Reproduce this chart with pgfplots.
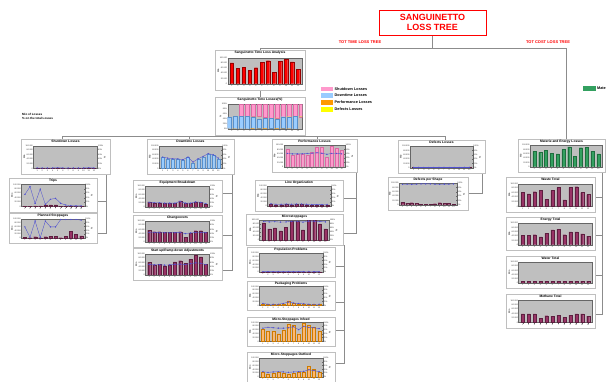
\documentclass[border=0pt]{standalone}
\usepackage{fontspec}
\setmainfont{Liberation Sans}
\usepackage{pgfplots}
\pgfplotsset{compat=1.18}
\definecolor{plum}{HTML}{993366}
\definecolor{plumd}{HTML}{5E1F40}
\definecolor{lblue}{HTML}{99CCFF}
\definecolor{lblued}{HTML}{5A8FC8}
\definecolor{pinkk}{HTML}{FF99CC}
\definecolor{pinkd}{HTML}{D96AA3}
\definecolor{orng}{HTML}{FF9900}
\definecolor{lorng}{HTML}{FFB870}
\definecolor{yel}{HTML}{FFFF00}
\definecolor{grn}{HTML}{33A060}
\definecolor{grnd}{HTML}{1E6E3E}
\definecolor{lineb}{HTML}{5050D0}
\newcommand{\ttlfont}{\fontsize{3.3}{3.6}\selectfont\bfseries}
\tikzset{
 pb/.style={fill=plum,draw=plumd,line width=0.15pt},
 ob/.style={fill=lorng,draw=orng!80!black,line width=0.15pt},
 ln/.style={sharp plot,color=lineb,line width=0.35pt,mark=*,mark size=0.45pt,mark options={fill=lineb}},
 conn/.style={black!45,line width=0.6pt},
}
\pgfplotsset{
 mini/.style={anchor=north west, scale only axis, ymin=0, ymax=100, xmin=0.3, xmax=12.7,
  axis background/.style={fill=black!25},
  axis line style={black!60,line width=0.2pt},
  every tick/.style={black!60,line width=0.2pt}, major tick length=0.8pt,
  tick pos=left,
  xtick={1,...,12}, ytick={0,20,40,60,80,100},
  yticklabels={0,20.000,40.000,60.000,80.000,100.000},
  tick label style={font=\fontsize{2}{2}\selectfont, inner sep=0.4pt, text=black!80, /pgf/number format/assume math mode=true},
  ylabel={Mio}, ylabel style={font=\fontsize{2.4}{2.4}\selectfont, inner sep=0pt},
  ybar, bar width=3pt},
 miniR/.style={anchor=north west, scale only axis, ymin=0, ymax=100, xmin=0.3, xmax=12.7,
  axis x line=none, axis y line*=right,
  axis line style={black!60,line width=0.2pt},
  every tick/.style={black!60,line width=0.2pt}, major tick length=0.8pt,
  ytick={0,20,40,60,80,100},
  yticklabels={0\%,20\%,40\%,60\%,80\%,100\%},
  tick label style={font=\fontsize{2}{2}\selectfont, inner sep=0.4pt, text=black!80},
  ylabel={\%}, ylabel style={font=\fontsize{2.4}{2.4}\selectfont, inner sep=0pt}},
}
\newcommand{\mini}[8][1]{%
 \pgfmathsetmacro\mx{#2+0.14*#4}%
 \pgfmathsetmacro\my{#3+0.19*#5}%
 \ifnum#1=1 \pgfmathsetmacro\mw{0.72*#4}\else\pgfmathsetmacro\mw{0.83*#4}\fi
 \pgfmathsetmacro\mh{0.65*#5}%
 \fill[black!15] ({#2pt+1.2pt},{-#3pt-1.2pt}) rectangle ++(#4pt,-#5pt);
 \draw[black!25,line width=0.3pt,fill=white] (#2pt,-#3pt) rectangle ++(#4pt,-#5pt);
 \node[font=\ttlfont,anchor=north,inner sep=0pt] at ({#2pt+0.5*#4pt},{-#3pt-1.3pt}) {#6};
 \begin{axis}[mini,at={(\mx pt,-\my pt)},width=\mw pt,height=\mh pt,#7]
 #8
 \end{axis}
 \ifnum#1=1
 \begin{axis}[miniR,at={(\mx pt,-\my pt)},width=\mw pt,height=\mh pt]
 \addplot[draw=none] coordinates {(1,0)};
 \end{axis}
 \fi
}
\begin{document}
\begin{tikzpicture}
\path[use as bounding box] (0,0) rectangle (606pt,-381pt);
\clip (0,0) rectangle (606pt,-381pt);
\fill[white] (0,0) rectangle (606pt,-381pt);
\begin{scope}[x=1pt,y=-1pt]
% connectors
\draw[conn] (432,35) -- (432,48);
\draw[conn] (260,50) -- (260,48) -- (566,48) -- (566,139);
\draw[conn] (260,90) -- (260,97);
\draw[conn] (260,134) -- (260,136);
\draw[conn] (62,139) -- (62,136) -- (445,136) -- (445,140);
\draw[conn] (189,136) -- (189,139);
\draw[conn] (317,136) -- (317,139);
\draw[conn] (106,174) -- (106,233) -- (97,233);
\draw[conn] (97,201) -- (106,201);
\draw[conn] (232,174) -- (232,270) -- (222,270);
\draw[conn] (222,193) -- (232,193);
\draw[conn] (222,235) -- (232,235);
\draw[conn] (356,171) -- (356,233) -- (343,233);
\draw[conn] (343,198) -- (356,198);
\draw[conn] (344,245) -- (344,363) -- (335,363);
\draw[conn] (335,266) -- (344,266);
\draw[conn] (335,302) -- (344,302);
\draw[conn] (335,330) -- (344,330);
\draw[conn] (482,173) -- (482,193) -- (468,193);
\draw[conn] (602,172) -- (602,314) -- (595,314);
\draw[conn] (595,197) -- (602,197);
\draw[conn] (595,235) -- (602,235);
\draw[conn] (595,275) -- (602,275);
% title
\node[draw=red,line width=1pt,fill=white,minimum width=107pt,minimum height=25pt,font=\fontsize{9}{10}\selectfont\bfseries,text=red,align=center] at (432.5,22.5) {SANGUINETTO\\LOSS TREE};
\node[font=\fontsize{4}{4}\selectfont\bfseries,text=red] at (360,42) {TOT TIME LOSS TREE};
\node[font=\fontsize{4}{4}\selectfont\bfseries,text=red] at (548,42) {TOT COST LOSS TREE};
% legends
\foreach \yy/\cc/\tt in {89/pinkk/Shutdown Losses,95.5/lblue/Downtime Losses,102.5/orng/Performance Losses,109.5/yel/Defects Losses}{
 \fill[\cc] (321,\yy-2.3) rectangle (333,\yy+2.3);
 \node[anchor=west,font=\fontsize{3.8}{4}\selectfont\bfseries,inner sep=0pt] at (334.5,\yy) {\tt};
}
\fill[grn] (583,86) rectangle (596,91);
\node[anchor=west,font=\fontsize{3.8}{4}\selectfont\bfseries,inner sep=0pt] at (597,88.5) {Materie and Energy Losses};
\node[anchor=west,font=\fontsize{3}{3.4}\selectfont\bfseries,inner sep=0pt,align=left] at (22,116.5) {Mio of Losses\\\% on the total Losses};
\end{scope}
% top charts
\mini[0]{215}{50}{90}{40}{Sanguinetto Time Loss Analysis}{bar width=3.3pt}{
 \addplot[fill=red,draw=red!60!black,line width=0.15pt] coordinates {(1,80)(2,59)(3,62)(4,51)(5,61)(6,82)(7,88)(8,44)(9,85)(10,93)(11,84)(12,55)};
}
\mini[0]{215}{97}{90}{38}{Sanguinetto Time Losses(\%)}{ybar stacked,bar width=4.2pt,yticklabels={0\%,20\%,40\%,60\%,80\%,100\%},ylabel={\%}}{
 \addplot[fill=orng,draw=none] coordinates {(1,1)(2,0.5)(3,1)(4,0.5)(5,0.5)(6,2)(7,1)(8,2)(9,0.5)(10,2)(11,1)(12,1)};
 \addplot[fill=lblue,draw=lblued,line width=0.1pt] coordinates {(1,48)(2,50)(3,50)(4,50)(5,48)(6,38)(7,42)(8,42)(9,38)(10,48)(11,48)(12,50)};
 \addplot[fill=yel,draw=none] coordinates {(1,0.4)(2,0.4)(3,0.4)(4,0.4)(5,0.4)(6,0.4)(7,0.4)(8,0.4)(9,0.4)(10,0.4)(11,0.4)(12,0.4)};
 \addplot[fill=pinkk,draw=pinkd,line width=0.1pt] coordinates {(1,49.6)(2,48.1)(3,47.6)(4,48.1)(5,50.1)(6,58.6)(7,55.6)(8,54.6)(9,60.1)(10,48.6)(11,49.6)(12,47.6)};
}
% level 2
\mini{21}{139}{89}{35}{Shutdown Losses}{}{
 \addplot[pb] coordinates {(1,1)(2,1.5)(3,1)(4,1)(5,2)(6,1)(7,1)(8,1)(9,1)(10,1)(11,2)(12,1)};
 \addplot[ln] coordinates {(1,2)(2,2)(3,2)(4,2)(5,3)(6,2)(7,2)(8,2)(9,2)(10,2)(11,3)(12,2)};
}
\mini{147}{139}{87}{35}{Downtime Losses}{}{
 \addplot[fill=lblue,draw=lblued,line width=0.15pt] coordinates {(1,48)(2,43)(3,40)(4,40)(5,36)(6,48)(7,25)(8,40)(9,51)(10,63)(11,58)(12,43)};
 \addplot[ln] coordinates {(1,50)(2,45)(3,42)(4,42)(5,38)(6,50)(7,28)(8,42)(9,53)(10,65)(11,60)(12,45)};
}
\mini{272}{139}{85}{33}{Performance Losses}{}{
 \addplot[fill=pinkk,draw=pinkd,line width=0.15pt] coordinates {(1,83)(2,54)(3,57)(4,57)(5,54)(6,66)(7,90)(8,90)(9,43)(10,94)(11,87)(12,76)};
 \addplot[ln] coordinates {(1,62)(2,60)(3,60)(4,60)(5,62)(6,63)(7,65)(8,63)(9,58)(10,62)(11,62)(12,60)};
}
\mini{398}{140}{87}{33}{Defects Losses}{}{
 \addplot[pb] coordinates {(1,1)(2,1)(3,1)(4,1)(5,1)(6,1)(7,1)(8,1)(9,1)(10,1)(11,1)(12,1)};
 \addplot[ln] coordinates {(1,1.5)(2,1.5)(3,1.5)(4,1.5)(5,1.5)(6,1.5)(7,1.5)(8,1.5)(9,1.5)(10,1.5)(11,1.5)(12,1.5)};
}
% shutdown children
\mini{9}{178}{88}{34}{Trips}{}{
 \addplot[pb] coordinates {(1,2)(2,2)(3,3)(4,3)(5,8)(6,8)(7,8)(8,2)(9,1)(10,1)(11,1)(12,1)};
 \addplot[ln] coordinates {(1,55)(2,90)(3,14)(4,79)(5,10)(6,33)(7,37)(8,15)(9,7)(10,4)(11,3)(12,3)};
}
\mini{9}{213}{88}{30}{Planned Stoppages}{}{
 \addplot[pb] coordinates {(1,5)(2,3)(3,8)(4,3)(5,8)(6,10)(7,10)(8,3)(9,10)(10,35)(11,20)(12,12)};
 \addplot[ln] coordinates {(1,58)(2,5)(3,88)(4,3)(5,88)(6,58)(7,58)(8,96)(9,96)(10,96)(11,96)(12,93)};
}
% downtime children
\mini{133}{180}{89}{32}{Equipment Breakdown}{}{
 \addplot[pb] coordinates {(1,24)(2,19)(3,19)(4,16)(5,16)(6,16)(7,29)(8,16)(9,16)(10,24)(11,21)(12,13)};
 \addplot[ln] coordinates {(1,22)(2,20)(3,20)(4,18)(5,18)(6,18)(7,26)(8,18)(9,18)(10,24)(11,22)(12,16)};
}
\mini{133}{215}{89}{32}{Changeovers}{}{
 \addplot[pb] coordinates {(1,57)(2,49)(3,49)(4,46)(5,46)(6,46)(7,49)(8,23)(9,42)(10,54)(11,54)(12,46)};
 \addplot[ln] coordinates {(1,45)(2,45)(3,44)(4,44)(5,44)(6,44)(7,45)(8,40)(9,43)(10,45)(11,45)(12,44)};
}
\mini{133}{248}{89}{32}{Start up/Ramp down Adjustments}{}{
 \addplot[pb] coordinates {(1,60)(2,49)(3,52)(4,44)(5,49)(6,63)(7,68)(8,57)(9,76)(10,96)(11,87)(12,52)};
 \addplot[ln] coordinates {(1,50)(2,48)(3,49)(4,47)(5,48)(6,51)(7,52)(8,50)(9,54)(10,58)(11,56)(12,49)};
}
% performance children
\mini{255}{180}{88}{31}{Line Organization}{}{
 \addplot[pb] coordinates {(1,9)(2,7)(3,7)(4,8)(5,7)(6,8)(7,8)(8,7)(9,5)(10,5)(11,5)(12,6)};
 \addplot[ln] coordinates {(1,11)(2,9)(3,9)(4,10)(5,9)(6,10)(7,10)(8,9)(9,7)(10,7)(11,7)(12,8)};
}
\mini{246}{214}{97}{31}{Microstoppages}{}{
 \addplot[pb] coordinates {(1,85)(2,55)(3,60)(4,45)(5,62)(6,95)(7,95)(8,50)(9,97)(10,97)(11,80)(12,55)};
 \addplot[ln] coordinates {(1,92)(2,90)(3,91)(4,89)(5,90)(6,93)(7,93)(8,89)(9,94)(10,94)(11,92)(12,90)};
}
\mini{247}{247}{88}{30}{Population Problems}{}{
 \addplot[pb] coordinates {(1,2)(2,2)(3,2)(4,2)(5,2)(6,2)(7,2)(8,2)(9,2)(10,3)(11,2)(12,2)};
 \addplot[ln] coordinates {(1,3)(2,3)(3,3)(4,3)(5,3)(6,3)(7,3)(8,3)(9,3)(10,4)(11,3)(12,3)};
}
\mini{247}{281}{88}{29}{Packaging Problems}{}{
 \addplot[ob] coordinates {(1,8)(2,5)(3,5)(4,5)(5,8)(6,25)(7,10)(8,8)(9,6)(10,5)(11,5)(12,5)};
 \addplot[ln] coordinates {(1,10)(2,6)(3,6)(4,6)(5,10)(6,18)(7,12)(8,10)(9,8)(10,6)(11,6)(12,6)};
}
\mini{247}{317}{88}{29}{Micro-Stoppages Infeed}{}{
 \addplot[ob] coordinates {(1,63)(2,56)(3,56)(4,41)(5,60)(6,93)(7,85)(8,41)(9,98)(10,85)(11,75)(12,56)};
 \addplot[ln] coordinates {(1,70)(2,75)(3,72)(4,70)(5,70)(6,72)(7,78)(8,62)(9,80)(10,74)(11,72)(12,68)};
}
\mini{247}{352}{88}{30}{Micro-Stoppages Outfeed}{}{
 \addplot[ob] coordinates {(1,25)(2,18)(3,22)(4,25)(5,22)(6,18)(7,22)(8,25)(9,28)(10,55)(11,40)(12,25)};
 \addplot[ln] coordinates {(1,28)(2,25)(3,27)(4,28)(5,27)(6,25)(7,27)(8,28)(9,30)(10,38)(11,34)(12,28)};
}
% defects child
\mini{388}{177}{80}{33}{Defects per Shape}{}{
 \addplot[pb] coordinates {(1,12)(2,8)(3,10)(4,8)(5,3)(6,3)(7,3)(8,5)(9,10)(10,8)(11,8)(12,3)};
 \addplot[ln] coordinates {(1,95)(2,96)(3,95)(4,96)(5,97)(6,97)(7,97)(8,96)(9,95)(10,96)(11,96)(12,97)};
}
% cost tree
\mini[0]{518}{139}{87}{33}{Materie and Energy Losses}{}{
 \addplot[fill=grn,draw=grnd,line width=0.15pt] coordinates {(1,71)(2,67)(3,76)(4,63)(5,60)(6,80)(7,93)(8,49)(9,89)(10,91)(11,73)(12,60)};
}
\mini[0]{506}{177}{89}{35}{Waste Total}{}{
 \addplot[pb] coordinates {(1,61)(2,55)(3,65)(4,70)(5,31)(6,70)(7,83)(8,29)(9,83)(10,87)(11,61)(12,52)};
}
\mini[0]{506}{217}{89}{33}{Energy Total}{}{
 \addplot[pb] coordinates {(1,43)(2,43)(3,47)(4,37)(5,53)(6,69)(7,73)(8,47)(9,60)(10,60)(11,51)(12,40)};
}
\mini[0]{506}{256}{89}{32}{Water Total}{}{
 \addplot[pb] coordinates {(1,8)(2,8)(3,8)(4,8)(5,8)(6,8)(7,8)(8,8)(9,8)(10,8)(11,8)(12,8)};
}
\mini[0]{506}{294}{89}{34}{Methane Total}{}{
 \addplot[pb] coordinates {(1,39)(2,39)(3,39)(4,20)(5,31)(6,29)(7,34)(8,24)(9,34)(10,39)(11,39)(12,29)};
}
\end{tikzpicture}
\end{document}
